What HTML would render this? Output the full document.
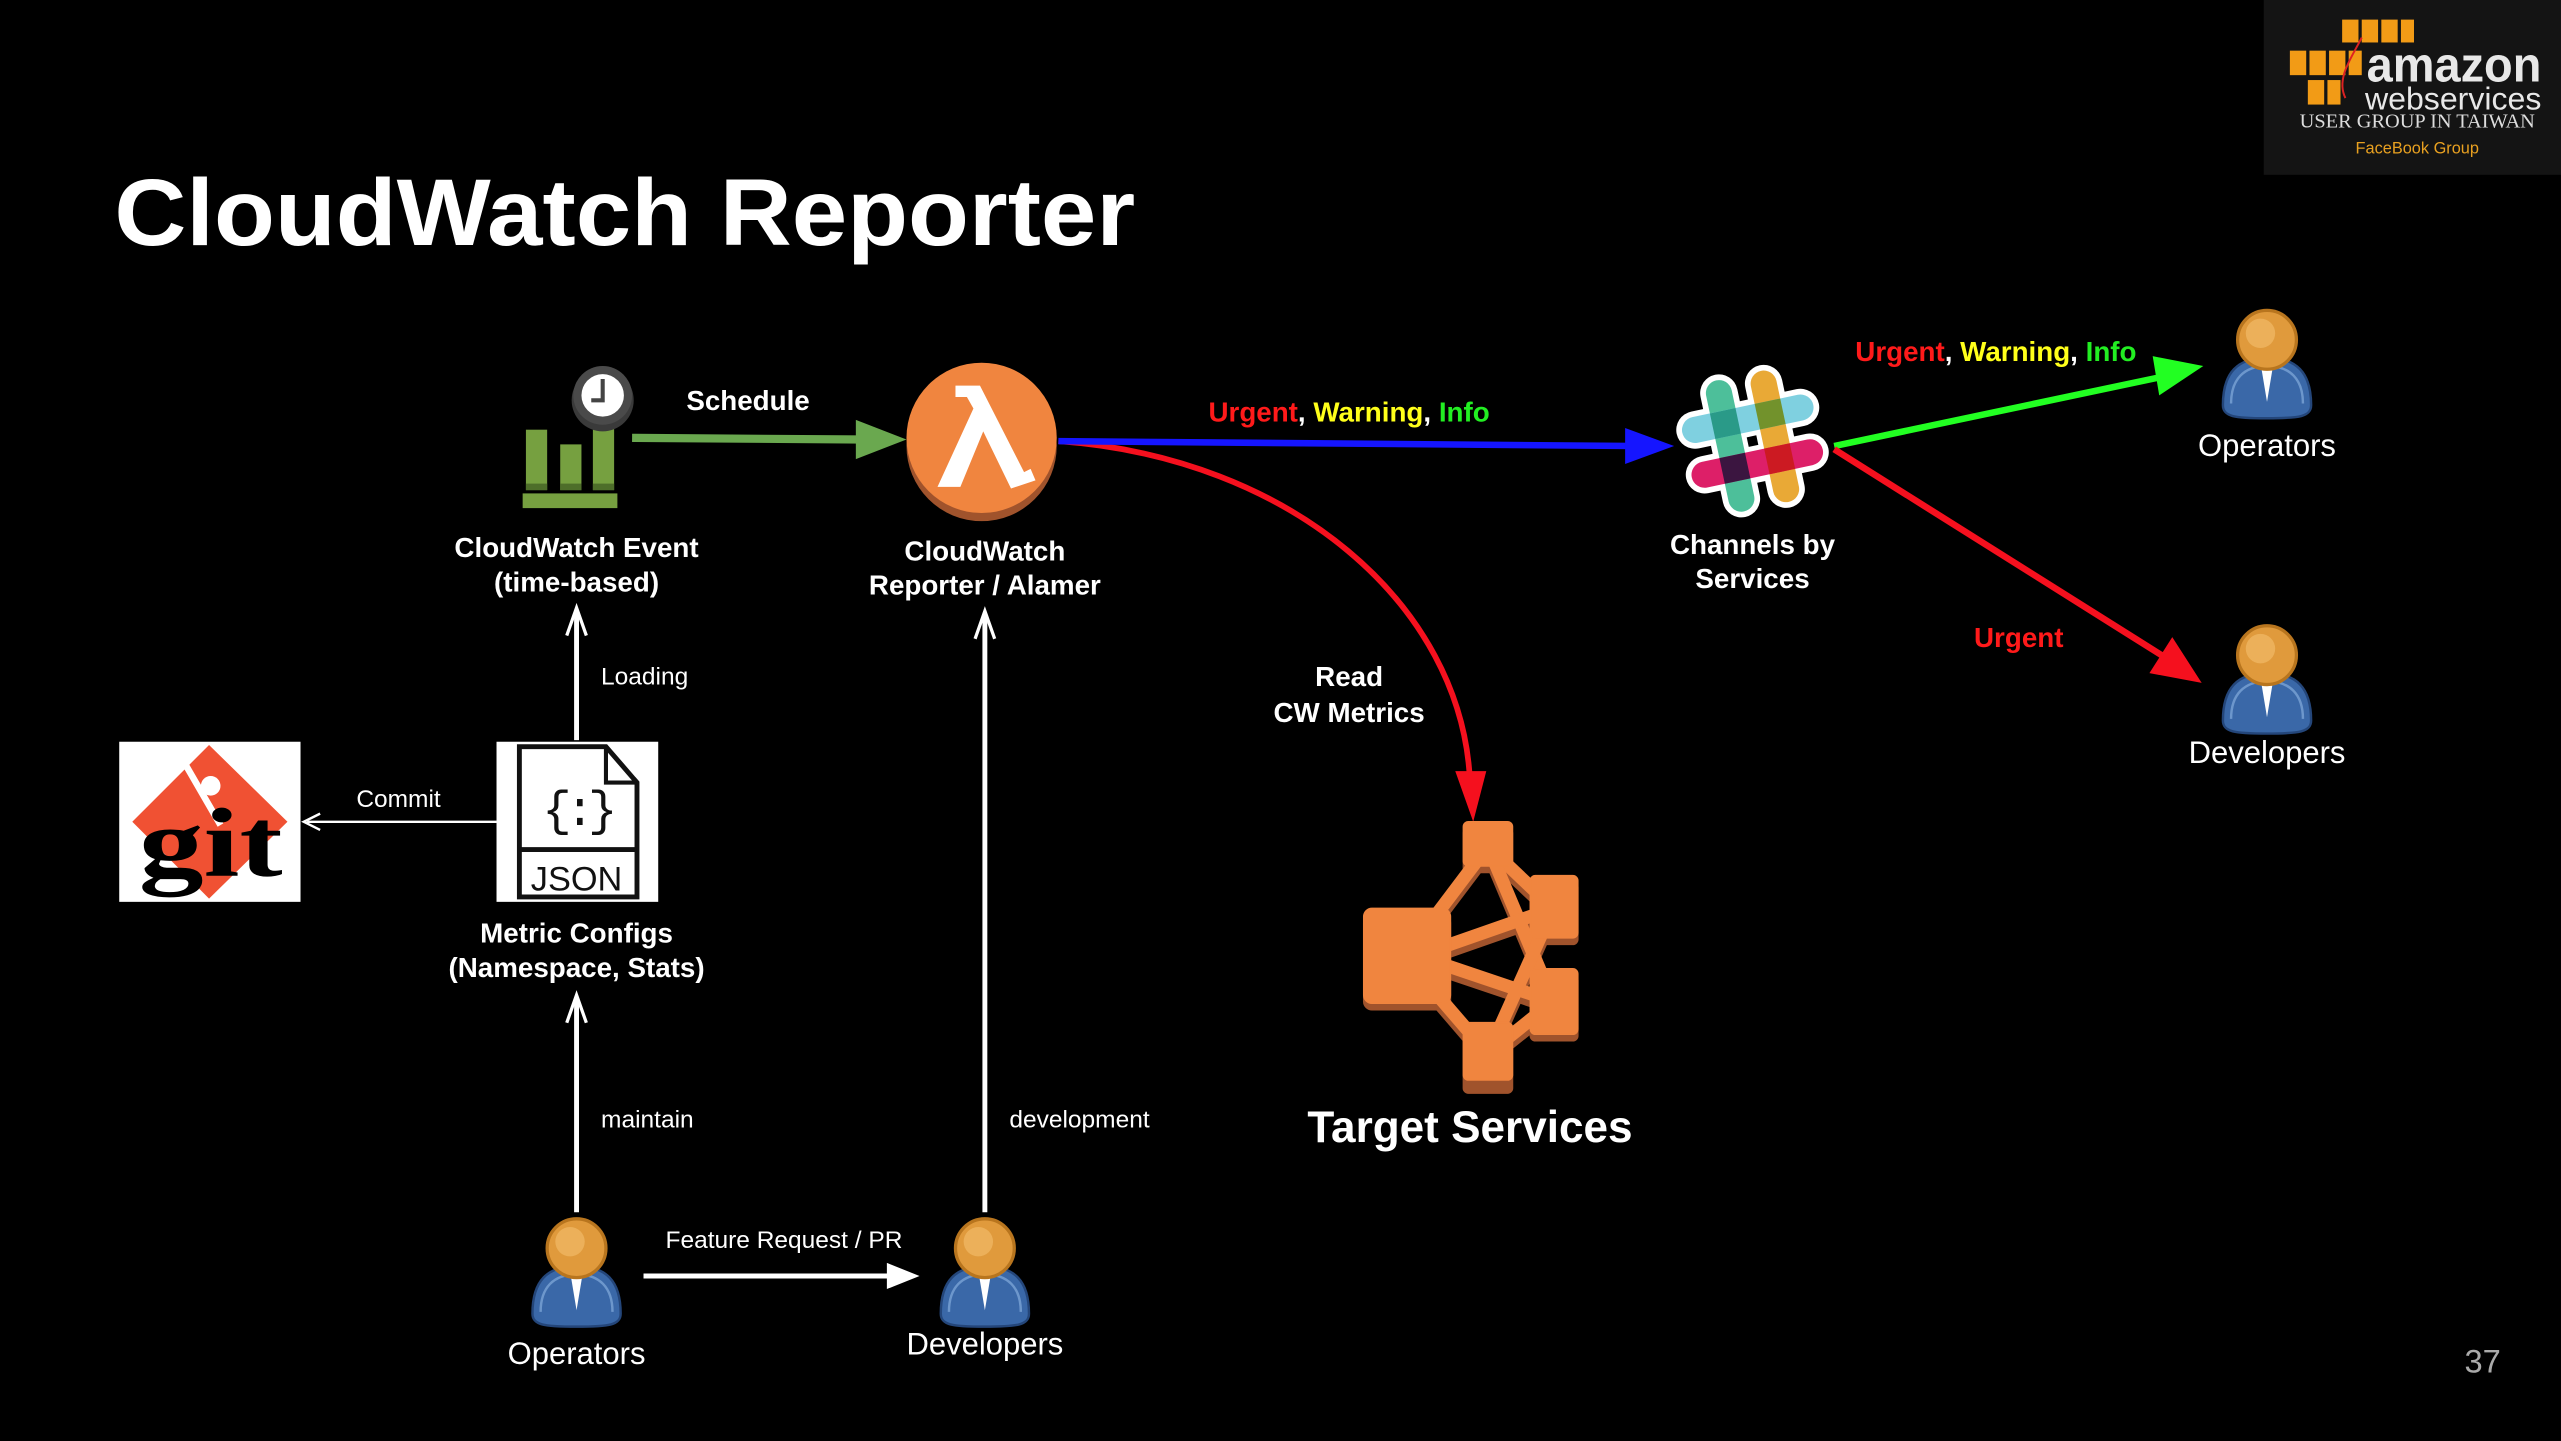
<!DOCTYPE html>
<html><head><meta charset="utf-8"><style>
html,body{margin:0;padding:0;background:#000;}
svg{display:block;}
text{font-family:"Liberation Sans",Arial,sans-serif;}
</style></head><body>
<svg width="2561" height="1441" viewBox="0 0 1568 882" preserveAspectRatio="none" xmlns="http://www.w3.org/2000/svg">
<defs>
<g id="person">
  <path d="M-27,40 C-27,20 -18,11 0,11 C18,11 27,20 27,40 C27,47 20,48 0,48 C-20,48 -27,47 -27,40 Z" fill="#3a68a8" stroke="#24467a" stroke-width="1.5"/>
  <path d="M-22,39 C-22,24 -14,16 0,16 C14,16 22,24 22,39" fill="none" stroke="#6d97cc" stroke-width="1.5"/>
  <path d="M-4,14 L0,38 L4,14 Z" fill="#fff"/>
  <circle cx="0" cy="0" r="18" fill="#e09a3c" stroke="#b8751e" stroke-width="2"/>
  <circle cx="-4" cy="-4" r="9" fill="#f3bf6e" opacity="0.6"/>
</g>
</defs>
<rect width="1568" height="882" fill="#000"/>

<!-- AWS logo -->
<rect x="1386" y="0" width="182" height="107" fill="#141414"/>
<g fill="#f29b16">
  <rect x="1434" y="12" width="10" height="14"/><rect x="1446" y="12" width="10" height="14"/><rect x="1458" y="12" width="10" height="14"/><rect x="1470" y="12" width="8" height="14"/>
  <rect x="1402" y="31" width="10" height="15"/><rect x="1414" y="31" width="10" height="15"/><rect x="1426" y="31" width="10" height="15"/><rect x="1438" y="31" width="8" height="15"/>
  <rect x="1413" y="49" width="10" height="15"/><rect x="1425" y="49" width="8" height="15"/>
</g>
<path d="M1446,23 C1440,35 1430,48 1436,60" stroke="#d22" stroke-width="1.2" fill="none"/>
<text x="1449" y="50" font-size="30" font-weight="bold" fill="#e8e8e8" textLength="107" lengthAdjust="spacingAndGlyphs">amazon</text>
<text x="1448" y="67" font-size="19" fill="#e8e8e8" textLength="108" lengthAdjust="spacingAndGlyphs">webservices</text>
<text x="1408" y="78" font-size="12" fill="#ddd" style="font-family:'Liberation Serif',serif" textLength="144" lengthAdjust="spacingAndGlyphs">USER GROUP IN TAIWAN</text>
<text x="1480" y="94" font-size="10" fill="#e8a020" text-anchor="middle">FaceBook Group</text>

<!-- Title -->
<text x="70" y="150" font-size="58" font-weight="bold" fill="#fff" textLength="625" lengthAdjust="spacingAndGlyphs">CloudWatch Reporter</text>

<!-- CloudWatch Event icon -->
<g fill="#76a040">
  <rect x="322" y="263" width="13" height="37"/><rect x="343" y="272" width="13" height="28"/><rect x="363" y="253" width="13" height="47"/>
  <rect x="320" y="302" width="58" height="9"/>
</g>
<g fill="#4e6e2a"><rect x="322" y="296" width="13" height="4"/><rect x="343" y="296" width="13" height="4"/><rect x="363" y="296" width="13" height="4"/></g>
<circle cx="369" cy="245" r="19" fill="#3a3a3a"/>
<circle cx="369" cy="242" r="18" fill="#4a4a4a"/>
<circle cx="369" cy="242" r="13" fill="#fff"/>
<path d="M369,232 L369,245 L362,245" stroke="#444" stroke-width="2.5" fill="none"/>

<text x="458" y="251" font-size="17" font-weight="bold" fill="#fff" text-anchor="middle">Schedule</text>
<line x1="387" y1="268" x2="528" y2="269" stroke="#6aa84f" stroke-width="5"/>
<path d="M524,257 L555,269 L524,281 Z" fill="#6aa84f"/>

<!-- Lambda -->
<circle cx="601" cy="273" r="46" fill="#a0532c"/>
<circle cx="601" cy="268" r="46" fill="#f0853f"/>
<path d="M585,236 L600,236 L627,289 L631,287 L634,294 L619,299 L602,264 L588,298 L574,298 L596,250 L592,243 L585,243 Z" fill="#fff"/>

<text x="353" y="341" font-size="17" font-weight="bold" fill="#fff" text-anchor="middle">CloudWatch Event</text>
<text x="353" y="362" font-size="17" font-weight="bold" fill="#fff" text-anchor="middle">(time-based)</text>
<text x="603" y="343" font-size="17" font-weight="bold" fill="#fff" text-anchor="middle">CloudWatch</text>
<text x="603" y="364" font-size="17" font-weight="bold" fill="#fff" text-anchor="middle">Reporter / Alamer</text>

<!-- red curve -->
<path d="M648,270 C790,280 895,370 900,478" stroke="#f5101e" stroke-width="3.5" fill="none"/>
<path d="M891,472 L902,503 L910,472 Z" fill="#f5101e"/>
<!-- blue -->
<line x1="648" y1="270" x2="1000" y2="273" stroke="#1515ff" stroke-width="4"/>
<path d="M995,262 L1025,273 L995,284 Z" fill="#1515ff"/>
<text x="826" y="258" font-size="17" font-weight="bold" text-anchor="middle"><tspan fill="#ff1a1a">Urgent</tspan><tspan fill="#fff">, </tspan><tspan fill="#ffff1a">Warning</tspan><tspan fill="#fff">, </tspan><tspan fill="#22ee22">Info</tspan></text>
<text x="826" y="420" font-size="17" font-weight="bold" fill="#fff" text-anchor="middle">Read</text>
<text x="826" y="442" font-size="17" font-weight="bold" fill="#fff" text-anchor="middle">CW Metrics</text>

<!-- Slack -->
<g transform="translate(1073,270) rotate(-12)" stroke-linecap="round">
  <g stroke="#fff" stroke-width="23">
    <line x1="-14" y1="-33" x2="-14" y2="33"/><line x1="14" y1="-33" x2="14" y2="33"/>
    <line x1="-33" y1="-14" x2="33" y2="-14"/><line x1="-33" y1="14" x2="33" y2="14"/>
  </g>
  <g stroke-width="16">
    <line x1="-14" y1="-33" x2="-14" y2="33" stroke="#4dbf9a"/>
    <line x1="14" y1="-33" x2="14" y2="33" stroke="#e9a936"/>
    <line x1="-33" y1="-14" x2="33" y2="-14" stroke="#7fd0e0"/>
    <line x1="-33" y1="14" x2="33" y2="14" stroke="#dd1f68"/>
  </g>
  <rect x="-22" y="-22" width="16" height="16" fill="#2a9a88"/>
  <rect x="6" y="-22" width="16" height="16" fill="#72922c"/>
  <rect x="-22" y="6" width="16" height="16" fill="#3b1540"/>
  <rect x="6" y="6" width="16" height="16" fill="#cc1a22"/>
  <rect x="-5" y="-5" width="10" height="10" fill="#fff"/><rect x="-3" y="-3" width="6" height="6" fill="#000"/>
</g>
<text x="1073" y="339" font-size="17" font-weight="bold" fill="#fff" text-anchor="middle">Channels by</text>
<text x="1073" y="360" font-size="17" font-weight="bold" fill="#fff" text-anchor="middle">Services</text>

<!-- to operators / developers -->
<line x1="1123" y1="273" x2="1322" y2="231" stroke="#22ff22" stroke-width="4"/>
<path d="M1318,218 L1349,224 L1322,242 Z" fill="#22ff22"/>
<line x1="1123" y1="275" x2="1325" y2="402" stroke="#f5101e" stroke-width="4"/>
<path d="M1316,412 L1348,418 L1330,390 Z" fill="#f5101e"/>
<text x="1222" y="221" font-size="17" font-weight="bold" text-anchor="middle"><tspan fill="#ff1a1a">Urgent</tspan><tspan fill="#fff">, </tspan><tspan fill="#ffff1a">Warning</tspan><tspan fill="#fff">, </tspan><tspan fill="#22ee22">Info</tspan></text>
<text x="1236" y="396" font-size="17" font-weight="bold" fill="#ff1a1a" text-anchor="middle">Urgent</text>

<use href="#person" x="1388" y="208"/>
<text x="1388" y="279" font-size="19" fill="#fff" text-anchor="middle">Operators</text>
<use href="#person" x="1388" y="401"/>
<text x="1388" y="467" font-size="19" fill="#fff" text-anchor="middle">Developers</text>

<!-- git -->
<rect x="73" y="454" width="111" height="98" fill="#fff"/>
<path d="M128,456 L176,503 L128,550 L81,503 Z" fill="#f05133"/>
<line x1="113" y1="467" x2="135" y2="505" stroke="#fff" stroke-width="4"/>
<circle cx="129" cy="481" r="6" fill="#fff"/>
<text x="129" y="536" font-size="60" font-weight="bold" fill="#000" text-anchor="middle" style="font-family:'Liberation Serif',serif" textLength="88" lengthAdjust="spacingAndGlyphs">git</text>

<!-- JSON -->
<rect x="304" y="454" width="99" height="98" fill="#fff"/>
<path d="M318,457 L371,457 L390,479 L390,549 L318,549 Z" fill="#fff" stroke="#111" stroke-width="3"/>
<path d="M371,457 L371,479 L390,479" fill="none" stroke="#111" stroke-width="2.5"/>
<line x1="318" y1="520" x2="390" y2="520" stroke="#111" stroke-width="3"/>
<text x="353" y="505" font-size="30" fill="#111" text-anchor="middle" letter-spacing="-4" style="font-family:'Liberation Mono',monospace">{:}</text>
<text x="353" y="545" font-size="21" fill="#111" text-anchor="middle">JSON</text>

<line x1="304" y1="503" x2="188" y2="503" stroke="#fff" stroke-width="1.5"/>
<path d="M196,498 L186,503 L196,508" stroke="#fff" stroke-width="1.5" fill="none"/>
<text x="244" y="494" font-size="15" fill="#fff" text-anchor="middle">Commit</text>

<line x1="353" y1="453" x2="353" y2="375" stroke="#fff" stroke-width="3"/>
<path d="M347,389 L353,372 L359,389" stroke="#fff" stroke-width="2" fill="none"/>
<text x="368" y="419" font-size="15" fill="#fff">Loading</text>

<text x="353" y="577" font-size="17" font-weight="bold" fill="#fff" text-anchor="middle">Metric Configs</text>
<text x="353" y="598" font-size="17" font-weight="bold" fill="#fff" text-anchor="middle">(Namespace, Stats)</text>

<line x1="353" y1="742" x2="353" y2="612" stroke="#fff" stroke-width="3"/>
<path d="M347,626 L353,609 L359,626" stroke="#fff" stroke-width="2" fill="none"/>
<text x="368" y="690" font-size="15" fill="#fff">maintain</text>

<line x1="603" y1="742" x2="603" y2="377" stroke="#fff" stroke-width="3"/>
<path d="M597,391 L603,374 L609,391" stroke="#fff" stroke-width="2" fill="none"/>
<text x="618" y="690" font-size="15" fill="#fff">development</text>

<line x1="394" y1="781" x2="545" y2="781" stroke="#fff" stroke-width="3"/>
<path d="M543,773 L563,781 L543,789 Z" fill="#fff"/>
<text x="480" y="764" font-size="15" fill="#fff" text-anchor="middle">Feature Request / PR</text>

<use href="#person" x="353" y="764"/>
<text x="353" y="835" font-size="19" fill="#fff" text-anchor="middle">Operators</text>
<use href="#person" x="603" y="764"/>
<text x="603" y="829" font-size="19" fill="#fff" text-anchor="middle">Developers</text>

<!-- Target services -->
<g transform="translate(0,4)" fill="#a0532c" stroke="#a0532c">
  <g stroke-width="8" fill="none">
    <line x1="911" y1="518" x2="868" y2="575"/><line x1="911" y1="518" x2="951" y2="556"/>
    <line x1="911" y1="518" x2="951" y2="613"/><line x1="868" y1="585" x2="951" y2="556"/>
    <line x1="868" y1="585" x2="951" y2="613"/><line x1="868" y1="595" x2="911" y2="645"/>
    <line x1="911" y1="645" x2="951" y2="556"/><line x1="911" y1="645" x2="951" y2="613"/>
  </g>
  <rect x="896" y="503" width="30" height="27" rx="3"/><rect x="835" y="556" width="53" height="58" rx="5"/>
  <rect x="937" y="536" width="29" height="38" rx="3"/><rect x="937" y="593" width="29" height="40" rx="3"/>
  <rect x="896" y="626" width="30" height="39" rx="3"/>
</g>
<g fill="#f0853f" stroke="#f0853f">
  <g stroke-width="8" fill="none">
    <line x1="911" y1="518" x2="868" y2="575"/><line x1="911" y1="518" x2="951" y2="556"/>
    <line x1="911" y1="518" x2="951" y2="613"/><line x1="868" y1="585" x2="951" y2="556"/>
    <line x1="868" y1="585" x2="951" y2="613"/><line x1="868" y1="595" x2="911" y2="645"/>
    <line x1="911" y1="645" x2="951" y2="556"/><line x1="911" y1="645" x2="951" y2="613"/>
  </g>
  <rect x="896" y="503" width="30" height="27" rx="3"/><rect x="835" y="556" width="53" height="58" rx="5"/>
  <rect x="937" y="536" width="29" height="38" rx="3"/><rect x="937" y="593" width="29" height="40" rx="3"/>
  <rect x="896" y="626" width="30" height="35" rx="3"/>
</g>
<text x="900" y="699" font-size="27" font-weight="bold" fill="#fff" text-anchor="middle">Target Services</text>

<text x="1520" y="840" font-size="20" fill="#aaa" text-anchor="middle">37</text>
</svg>
</body></html>
